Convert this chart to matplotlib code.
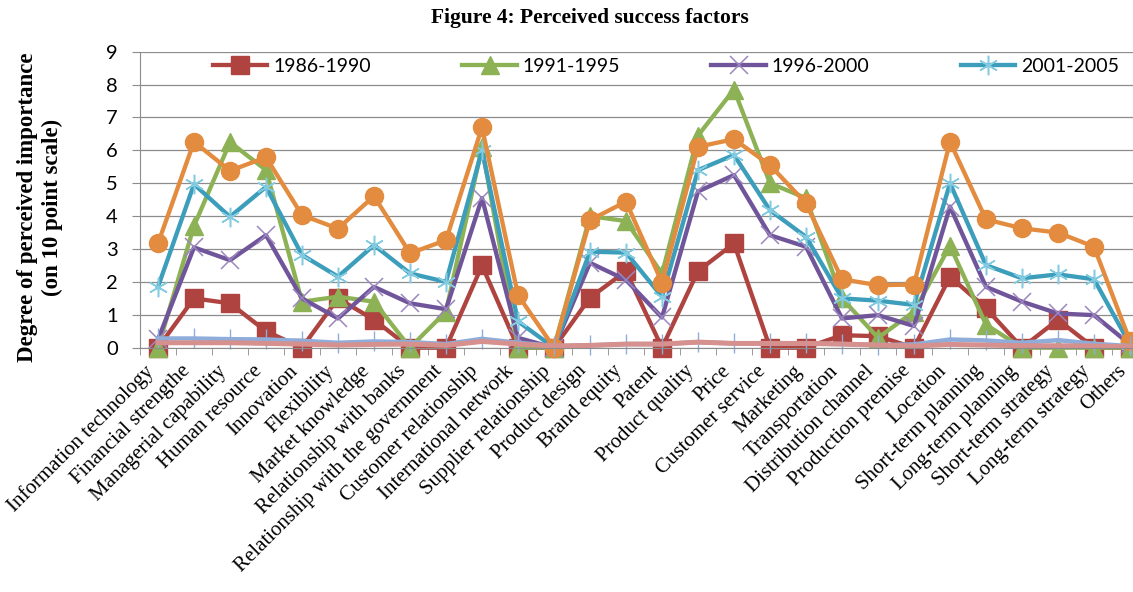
import matplotlib
matplotlib.use("Agg")
import matplotlib.pyplot as plt
import numpy as np

# categories along the x axis
categories = [
    "Information technology", "Financial strengthe", "Managerial capability",
    "Human resource", "Innovation", "Flexibility", "Market knowledge",
    "Relationship with banks", "Relationship with the government",
    "Customer relationship", "International network", "Supplier relationship",
    "Product design", "Brand equity", "Patent", "Product quality", "Price",
    "Customer service", "Marketing", "Transportation", "Distribution channel",
    "Production premise", "Location", "Short-term planning",
    "Long-term planning", "Short-term strategy", "Long-term strategy", "Others",
]

# series values
p1986 = [0, 1.5, 1.35, 0.5, 0, 1.5, 0.85, 0, 0, 2.5, 0, 0, 1.52, 2.33, 0, 2.33,
         3.17, 0, 0, 0.38, 0.35, 0, 2.16, 1.2, 0, 0.85, 0, 0]
p1991 = [0, 3.7, 6.25, 5.4, 1.4, 1.55, 1.4, 0, 1.1, 6.1, 0, 0, 4.0, 3.85, 2.25,
         6.45, 7.85, 5.0, 4.55, 1.5, 0.3, 1.1, 3.1, 0.7, 0, 0, 0, 0]
p1996 = [0.25, 3.05, 2.66, 3.42, 1.5, 0.89, 1.85, 1.35, 1.17, 4.55, 0.3, 0,
         2.58, 2.06, 0.92, 4.75, 5.25, 3.42, 3.07, 0.89, 0.99, 0.66, 4.29, 1.85,
         1.4, 1.04, 0.99, 0.1]
p2001 = [1.85, 4.97, 3.98, 4.89, 2.82, 2.16, 3.12, 2.26, 2.0, 6.0, 0.8, 0,
         2.92, 2.89, 1.55, 5.4, 5.86, 4.18, 3.37, 1.5, 1.43, 1.3, 5.0, 2.51,
         2.11, 2.23, 2.08, 0.1]
p_orange = [3.17, 6.26, 5.38, 5.79, 4.03, 3.62, 4.61, 2.87, 3.27, 6.7, 1.6, 0,
            3.88, 4.44, 1.98, 6.11, 6.34, 5.55, 4.39, 2.08, 1.9, 1.92, 6.26,
            3.9, 3.63, 3.5, 3.07, 0.2]
p_lightblue = [0.28, 0.28, 0.26, 0.25, 0.21, 0.15, 0.19, 0.17, 0.11, 0.27, 0.15,
               0.05, 0.07, 0.11, 0.11, 0.17, 0.13, 0.13, 0.13, 0.11, 0.08, 0.1,
               0.25, 0.22, 0.15, 0.23, 0.12, 0.05]
p_pink = [0.15, 0.15, 0.15, 0.13, 0.11, 0.08, 0.1, 0.11, 0.07, 0.19, 0.11, 0.05,
          0.07, 0.11, 0.11, 0.17, 0.13, 0.13, 0.13, 0.11, 0.08, 0.05, 0.1, 0.08,
          0.06, 0.06, 0.05, 0.03]

W, H = 1133, 592
fig = plt.figure(figsize=(W / 100, H / 100), dpi=100)
# axes intentionally runs past the right edge (chart is cropped in the source)
ax = fig.add_axes([140 / W, (H - 347.7) / H, 1008 / W, 296 / H])

x = np.arange(len(categories))
lw = 3.1
common = dict(lw=lw, clip_on=False)

ax.plot(x, p1986, color="#AE4340", marker="s", ms=12.5, mfc="#AE4340",
        mec="#AE4340", label="1986-1990", **common)
ax.plot(x, p1991, color="#8DB255", marker="^", ms=13, mfc="#8DB255",
        mec="#8DB255", label="1991-1995", **common)
ax.plot(x, p1996, color="#71559A", marker="x", ms=13, mec="#9C86BF", mew=1.1,
        label="1996-2000", **common)
ax.plot(x, p2001, color="#3C9EBB", marker=(6, 2, 0), ms=14, mec="#82CBE0",
        mew=1.1, label="2001-2005", **common)
ax.plot(x, p_orange, color="#E38B3E", marker="o", ms=13, mfc="#E38B3E",
        mec="#E38B3E", **common)
ax.plot(x, p_lightblue, color="#8FADDA", lw=3.2, marker="|", ms=14,
        mec="#8FADDA", mew=1.0, clip_on=False)
ax.plot(x, p_pink, color="#D6908E", lw=3.6, clip_on=False)

ax.set_xlim(-0.5, len(categories) - 0.5)
ax.set_ylim(0, 9)
ax.set_yticks(range(0, 10))
ax.yaxis.grid(True, color="#8C8C8C", lw=0.9)
ax.set_axisbelow(True)

for s in ["top", "right"]:
    ax.spines[s].set_visible(False)
ax.spines["left"].set_color("#8C8C8C")
ax.spines["bottom"].set_color("#8C8C8C")

ax.set_xticks(x)
ax.set_xticks(np.arange(-0.5, len(categories), 1), minor=True)
ax.tick_params(axis="x", which="major", length=0, pad=10)
ax.tick_params(axis="x", which="minor", length=5, color="#8C8C8C", direction="out")
ax.tick_params(axis="y", length=6, color="#8C8C8C", pad=10)
ax.set_xticklabels(categories, rotation=45, ha="right", rotation_mode="default",
                   fontfamily="Liberation Serif", fontsize=15)
for t in ax.get_yticklabels():
    t.set_fontfamily("Lato")
    t.set_fontsize(14.5)

handles, labels = ax.get_legend_handles_labels()
leg = ax.legend(handles, labels, ncol=4, loc="center left",
                bbox_to_anchor=(213 / W, 1 - 66.7 / H),
                bbox_transform=fig.transFigure, frameon=False,
                prop={"family": "Lato", "size": 14}, handlelength=2.8,
                handletextpad=0.3, columnspacing=4.7, borderpad=0,
                borderaxespad=0, numpoints=1)

fig.text(590 / W, 1 - 18 / H, "Figure 4: Perceived success factors",
         ha="center", va="center", fontfamily="Liberation Serif",
         fontweight="bold", fontsize=15.5)
fig.text(40 / W, 1 - 207 / H,
         "Degree of perceived importance\n(on 10 point scale)",
         rotation=90, ha="center", va="center", multialignment="center",
         fontfamily="Liberation Serif", fontweight="bold", fontsize=16.5)

fig.savefig("out.png", dpi=100)
